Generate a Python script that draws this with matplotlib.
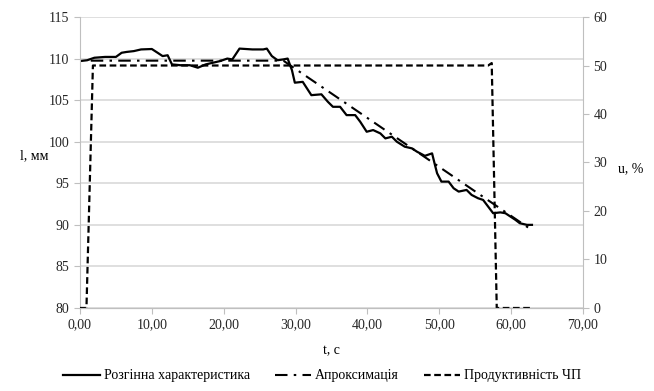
import matplotlib.pyplot as plt
from matplotlib.ticker import FuncFormatter

# Розгінна характеристика (l, мм)
t_main = [0.0, 1.0, 2.0, 3.5, 5.0, 5.8, 6.5, 7.5, 8.5, 10.0, 10.8, 11.5, 12.2, 12.8,
          14.0, 15.3, 16.4, 17.5, 18.5, 19.5, 20.5, 21.2, 22.2, 24.0, 25.5, 26.0,
          26.7, 27.5, 28.3, 28.9, 29.5, 29.9, 31.0, 32.2, 33.6, 34.5, 35.2, 36.2,
          37.1, 38.3, 39.0, 39.9, 40.8, 41.8, 42.5, 43.4, 44.1, 45.2, 46.2, 46.9,
          48.0, 49.0, 49.4, 49.7, 50.3, 51.3, 52.0, 52.7, 53.8, 54.5, 55.4, 56.1,
          56.8, 57.5, 58.5, 59.2, 59.9, 60.6, 61.2, 62.2, 62.9]
l_main = [109.7, 109.8, 110.1, 110.2, 110.2, 110.7, 110.8, 110.9, 111.1, 111.15, 110.7,
          110.3, 110.4, 109.3, 109.2, 109.2, 108.9, 109.3, 109.5, 109.7, 110.0, 109.9,
          111.2, 111.1, 111.1, 111.2, 110.3, 109.8, 109.9, 110.0, 108.6, 107.1, 107.2,
          105.6, 105.7, 104.8, 104.2, 104.2, 103.2, 103.2, 102.4, 101.2, 101.4, 101.0,
          100.4, 100.6, 100.0, 99.4, 99.2, 98.8, 98.3, 98.6, 97.2, 96.2, 95.2, 95.2,
          94.4, 94.0, 94.2, 93.6, 93.2, 93.0, 92.2, 91.4, 91.5, 91.4, 91.0, 90.6,
          90.2, 90.0, 90.0]

# Апроксимація
t_appr = [1.5, 28.3, 62.5]
l_appr = [109.75, 109.75, 89.6]

# Продуктивність ЧП (u, %)
t_prod = [0.0, 0.9, 1.8, 56.8, 57.3, 58.0, 62.9]
u_prod = [0, 0, 50, 50, 50.5, 0, 0]

x_ticks = [0, 10, 20, 30, 40, 50, 60, 70]

plt.rcParams['font.family'] = ['Liberation Serif', 'DejaVu Serif']
plt.rcParams['font.size'] = 10

grey = '#bfbfbf'
fig = plt.figure(figsize=(6.54, 3.91), dpi=100)
ax = fig.add_axes([0.1223, 0.2123, 0.7691, 0.7442])
ax2 = ax.twinx()

h1, = ax.plot(t_main, l_main, color='black', lw=1.6, label='Розгінна характеристика')
h2, = ax.plot(t_appr, l_appr, color='black', lw=1.5, dashes=(6, 3, 1.2, 3),
              label='Апроксимація')
h3, = ax2.plot(t_prod, u_prod, color='black', lw=1.6, dashes=(3, 1.6),
               label='Продуктивність ЧП')

ax.set_xlim(0, 70)
ax.set_ylim(80, 115)
ax2.set_ylim(0, 60)
ax.set_xticks(x_ticks)
ax.xaxis.set_major_formatter(FuncFormatter(lambda v, p: f'{v:.2f}'.replace('.', ',')))
ax.set_yticks(range(80, 116, 5))
ax2.set_yticks(range(0, 61, 10))

ax.yaxis.grid(True, color='#d9d9d9', lw=1.2)
ax.set_axisbelow(True)
for a in (ax, ax2):
    a.spines['top'].set_visible(False)
    for s in ('left', 'right', 'bottom'):
        a.spines[s].set_color(grey)
    a.tick_params(colors=grey, labelcolor='#262626', length=4, direction='out')
ax2.spines['left'].set_visible(False)
ax.spines['right'].set_visible(False)

ax.set_xlabel('t, с')
ax.xaxis.set_label_coords(0.5, -0.125)
ax.set_ylabel('l, мм', rotation=0)
ax.yaxis.set_label_coords(-0.09, 0.5)
ax2.set_ylabel('u, %', rotation=0)
ax2.yaxis.set_label_coords(1.095, 0.5)

fig.legend(handles=[h1, h2, h3], loc='lower center', bbox_to_anchor=(0.493, -0.01),
           ncol=3, frameon=False, handlelength=2.6, columnspacing=1.8, handletextpad=0.3)

fig.savefig('out.png', dpi=100)
